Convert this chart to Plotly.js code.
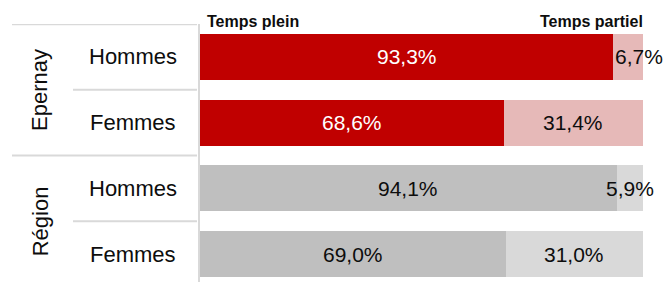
<!DOCTYPE html>
<html>
<head>
<meta charset="utf-8">
<script src="https://cdn.plot.ly/plotly-3.0.1.min.js"></script>
<style>html,body{margin:0;padding:0;background:#fff;}#chart{width:666px;height:282px;}</style>
</head>
<body>
<div id="chart"></div>
<script>
// Data
const groups = ["Epernay", "Epernay", "Région", "Région"];
const sexes = ["Hommes", "Femmes", "Hommes", "Femmes"];
const groupLabels = ["Epernay", "Région"];
const tempsPlein = [93.3, 68.6, 94.1, 69.0];
const tempsPartiel = [6.7, 31.4, 5.9, 31.0];
const seriesNames = ["Temps plein", "Temps partiel"];

// Styles
const pleinColors = ["#c00000", "#c00000", "#bfbfbf", "#bfbfbf"];
const partielColors = ["#e6b9b8", "#e6b9b8", "#d9d9d9", "#d9d9d9"];
const pleinText = ["#ffffff", "#ffffff", "#0d0d0d", "#0d0d0d"];
const partielText = ["#0d0d0d", "#0d0d0d", "#0d0d0d", "#0d0d0d"];
const partielShift = [11, 0, 0, 0];
const FONT = "Liberation Sans, Arial, sans-serif";

const pos = sexes.map((_, i) => i);
const fmt = v => v.toFixed(1).replace(".", ",") + "%";

const traces = [
  {type: "bar", orientation: "h", y: pos, x: tempsPlein, name: seriesNames[0],
   marker: {color: pleinColors}, width: 0.7, hoverinfo: "none"},
  {type: "bar", orientation: "h", y: pos, x: tempsPartiel, name: seriesNames[1],
   marker: {color: partielColors}, width: 0.7, hoverinfo: "none"}
];

const annotations = [];
pos.forEach(i => {
  annotations.push({x: tempsPlein[i] / 2, y: i, xref: "x", yref: "y", xanchor: "center", text: fmt(tempsPlein[i]),
    showarrow: false, font: {family: FONT, size: 21, color: pleinText[i]}});
  annotations.push({x: tempsPlein[i] + tempsPartiel[i] / 2, y: i, xref: "x", yref: "y", xanchor: "center",
    text: fmt(tempsPartiel[i]), xshift: partielShift[i],
    showarrow: false, font: {family: FONT, size: 21, color: partielText[i]}});
  annotations.push({x: -0.151, y: i, xref: "paper", yref: "y", xanchor: "center", text: sexes[i], showarrow: false,
    font: {family: FONT, size: 22, color: "#0d0d0d"}});
});
groupLabels.forEach((g, k) => {
  annotations.push({x: -0.361, y: 2 * k + 0.5, xref: "paper", yref: "y", xanchor: "center", yanchor: "middle",
    text: g, textangle: -90,
    showarrow: false, font: {family: FONT, size: 22, color: "#0d0d0d"}});
});
annotations.push({x: 0.011, y: 1, xref: "paper", yref: "paper", xanchor: "left", yanchor: "bottom",
  yshift: -8, text: "<b>" + seriesNames[0] + "</b>", showarrow: false,
  font: {family: FONT, size: 16, color: "#0d0d0d"}});
annotations.push({x: 1.0045, y: 1, xref: "paper", yref: "paper", xanchor: "right", yanchor: "bottom",
  yshift: -8, text: "<b>" + seriesNames[1] + "</b>", showarrow: false,
  font: {family: FONT, size: 16, color: "#0d0d0d"}});

const lineStyle = {color: "#d9d9d9", width: 2};
const shapes = [];
[-0.5, 1.5].forEach(y => shapes.push({type: "line", xref: "paper", yref: "y", x0: -0.4244, x1: -0.0068, y0: y, y1: y, line: lineStyle}));
[0.5, 2.5].forEach(y => shapes.push({type: "line", xref: "paper", yref: "y", x0: -0.2867, x1: -0.0068, y0: y, y1: y, line: lineStyle}));

const layout = {
  width: 666, height: 282,
  margin: {l: 200, r: 23, t: 24, b: 0, pad: 0},
  barmode: "stack",
  bargap: 0.3,
  showlegend: false,
  paper_bgcolor: "#ffffff", plot_bgcolor: "#ffffff",
  xaxis: {range: [0, 100], showgrid: false, zeroline: false, showticklabels: false, ticks: "", showline: false, fixedrange: true},
  yaxis: {range: [3.425, -0.502], showgrid: false, zeroline: false, showticklabels: false, ticks: "",
          showline: true, linecolor: "#d9d9d9", linewidth: 2, fixedrange: true},
  annotations: annotations,
  shapes: shapes,
  font: {family: FONT}
};

Plotly.newPlot("chart", traces, layout, {displayModeBar: false, staticPlot: true});
</script>
</body>
</html>
